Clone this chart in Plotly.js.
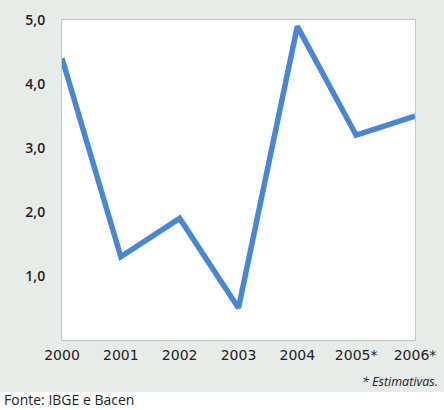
<!DOCTYPE html>
<html><head><meta charset="utf-8">
<script src="https://cdn.plot.ly/plotly-3.0.1.min.js"></script>
<style>html,body{margin:0;padding:0;background:#fff}</style>
</head><body><div id="chart" style="width:444px;height:410px"></div>
<script>
const years = ['2000','2001','2002','2003','2004','2005*','2006*'];
const growth = [4.4, 1.3, 1.9, 0.5, 4.9, 3.2, 3.5];
const yTicks = [1, 2, 3, 4, 5];

const W = 444, H = 410, L = 62, R = 29, T = 20, B = 70;
const pw = W - L - R, ph = H - T - B;
const px = v => (v - L) / pw;
const py = v => (H - B - v) / ph;

Plotly.newPlot('chart', [{
  x: years, y: growth, type: 'scatter', mode: 'lines',
  line: {color: '#4a87d2', width: 5.5}, hoverinfo: 'skip'
}], {
  width: W, height: H,
  margin: {l: L, r: R, t: T, b: B, pad: 0},
  paper_bgcolor: '#ffffff', plot_bgcolor: '#ffffff',
  separators: ',.',
  showlegend: false,
  font: {family: 'Open Sans, sans-serif', color: '#222'},
  xaxis: {type: 'category', range: [0, 6], showgrid: false, zeroline: false,
    showline: true, mirror: true, linecolor: '#c4c8c4', linewidth: 1,
    ticks: '', ticklabelstandoff: 2,
    tickfont: {family: 'DejaVu Sans, sans-serif', size: 14, color: '#222'}},
  yaxis: {range: [0, 5], tickvals: yTicks, tickformat: '.1f', showgrid: false, zeroline: false,
    showline: true, mirror: true, linecolor: '#c4c8c4', linewidth: 1,
    ticks: '', ticklabelstandoff: 13,
    tickfont: {size: 14, color: '#222', weight: 600}},
  shapes: [
    {type: 'rect', xref: 'paper', yref: 'paper', layer: 'below',
     x0: px(0), x1: px(W), y0: py(392), y1: py(0),
     fillcolor: '#e8ece8', line: {width: 0}},
    {type: 'rect', xref: 'paper', yref: 'paper', layer: 'below',
     x0: 0, x1: 1, y0: 0, y1: 1, fillcolor: '#ffffff', line: {width: 0}}
  ],
  annotations: [
    {xref: 'paper', yref: 'paper', x: px(440), y: py(381), xanchor: 'right', yanchor: 'middle',
     showarrow: false, text: '<i>* Estimativas.</i>', font: {size: 12.5, color: '#222'}},
    {xref: 'paper', yref: 'paper', x: px(2), y: py(399.5), xanchor: 'left', yanchor: 'middle',
     showarrow: false, text: 'Fonte: IBGE e Bacen', font: {size: 14, color: '#222'}}
  ]
}, {displayModeBar: false, staticPlot: true});
</script></body></html>
